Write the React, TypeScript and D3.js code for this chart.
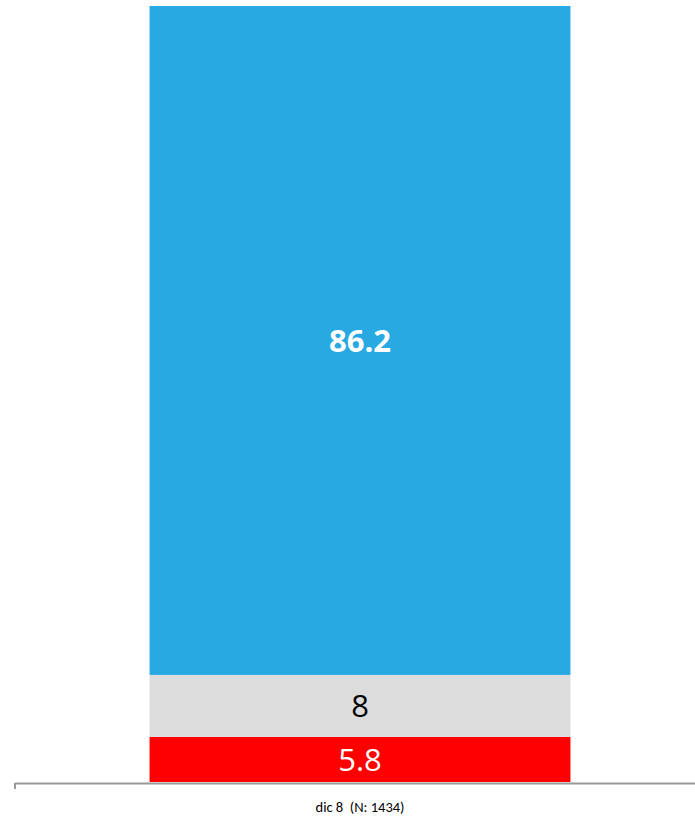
import React from "react";
import * as d3 from "d3";

const categories = ["dic 8  (N: 1434)"];
const seriesNames = ["Positive", "Neutral", "Negative"];
const positiveValues = [86.2];
const neutralValues = [8];
const negativeValues = [5.8];
const seriesColors = ["#29A9E1", "#DCDCDC", "#FF0000"];
const labelColors = ["#FFFFFF", "#000000", "#FFFFFF"];
const labelWeights = ["bold", "normal", "normal"];

export default function App() {
  const width = 695;
  const height = 819;
  const left = 15;
  const right = 705;
  const top = 6;
  const bottom = 782;

  const x = d3.scaleBand<string>().domain(categories).range([left, right]).paddingInner(0.39).paddingOuter(0.195);
  const y = d3.scaleLinear().domain([0, 100]).range([bottom, top]);

  const rows = categories.map((c, i) => ({
    cat: c,
    Positive: positiveValues[i],
    Neutral: neutralValues[i],
    Negative: negativeValues[i],
  }));
  const stack = d3.stack<any>().keys(["Negative", "Neutral", "Positive"]);
  const series = stack(rows);
  const colorOf = (k: string) => seriesColors[seriesNames.indexOf(k)];
  const labelColorOf = (k: string) => labelColors[seriesNames.indexOf(k)];
  const weightOf = (k: string) => labelWeights[seriesNames.indexOf(k)];

  return (
    <svg width={width} height={height} style={{ position: "absolute", left: 0, top: 0 }}
      fontFamily="Carlito, 'Open Sans', 'Liberation Sans', sans-serif">
      {series.map((s) =>
        s.map((d, j) => {
          const cat = categories[j];
          const x0 = x(cat)!;
          const y0 = y(d[1]);
          const y1 = y(d[0]);
          const val = d[1] - d[0];
          return (
            <g key={s.key + j}>
              <rect x={x0} y={y0} width={x.bandwidth()} height={y1 - y0} fill={colorOf(s.key)} />
              <text x={x0 + x.bandwidth() / 2} y={(y0 + y1) / 2} dy="0.36em" textAnchor="middle"
                fontFamily="'Open Sans', sans-serif"
                fontSize={31} fill={labelColorOf(s.key)} fontWeight={weightOf(s.key)}>
                {d3.format("~")(Math.round(val * 10) / 10)}
              </text>
            </g>
          );
        })
      )}
      <line x1={left} x2={width} y1={bottom + 1.5} y2={bottom + 1.5} stroke="#999999" strokeWidth={2} />
      <line x1={left} x2={left} y1={bottom + 1} y2={bottom + 7} stroke="#999999" strokeWidth={2} />
      {categories.map((c) => (
        <text key={c} x={x(c)! + x.bandwidth() / 2} y={807} dy="0.35em" textAnchor="middle" fontSize={14.5} fill="#000" style={{ whiteSpace: "pre" }}>
          {c}
        </text>
      ))}
    </svg>
  );
}
